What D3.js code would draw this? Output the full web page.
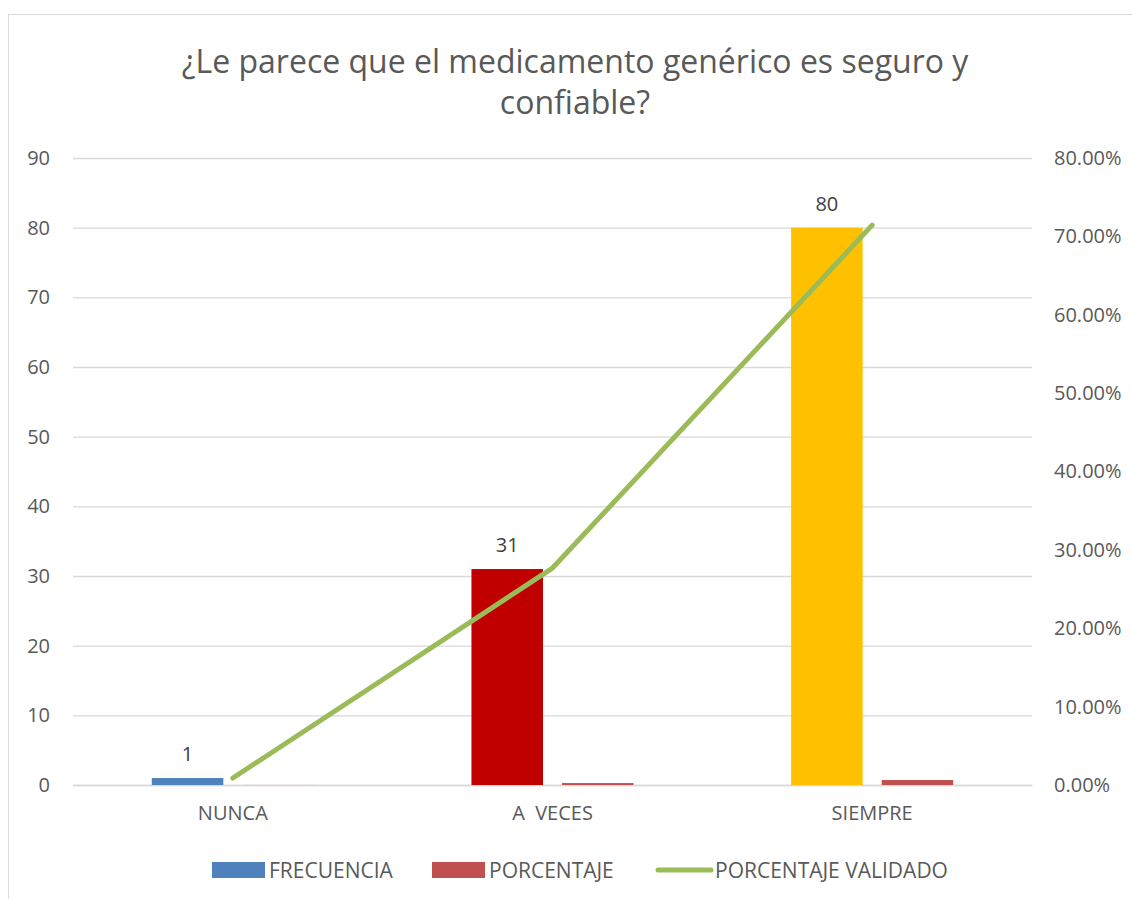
<!DOCTYPE html>
<html>
<head>
<meta charset="utf-8">
<script src="https://cdn.jsdelivr.net/npm/d3@7"></script>
<style>
  body { margin: 0; background: #fff; }
  svg { display: block; }
</style>
</head>
<body>
<div id="vis"></div>
<script>
const FRAME_WIDTH = 1132;
const FRAME_HEIGHT = 899;
const PLOT = {left: 73, right: 1032, top: 158, bottom: 785};

// data
const categories = ["NUNCA", "A  VECES", "SIEMPRE"];
const frecuencia = [1, 31, 80];
const porcentaje = [0.0089, 0.2768, 0.7143];
const porcentajeValidado = [0.0089, 0.2768, 0.7143];
const leftTicks = [0, 10, 20, 30, 40, 50, 60, 70, 80, 90];
const rightTicks = [0, 0.1, 0.2, 0.3, 0.4, 0.5, 0.6, 0.7, 0.8];
const seriesNames = ["FRECUENCIA", "PORCENTAJE", "PORCENTAJE VALIDADO"];
const barColors = ["#4F81BD", "#C00000", "#FFC000"];
const pctColor = "#C0504D";
const lineColor = "#9BBB59";

const FONT = "'Open Sans', sans-serif";
const NARROW = "'Liberation Sans Narrow', 'Open Sans', sans-serif";

const FRAME = d3.select("#vis")
  .append("svg")
    .attr("width", FRAME_WIDTH)
    .attr("height", FRAME_HEIGHT);

// chart border
FRAME.append("rect")
  .attr("x", 8.5).attr("y", 14.5)
  .attr("width", FRAME_WIDTH + 10).attr("height", FRAME_HEIGHT + 10)
  .attr("fill", "#fff")
  .attr("stroke", "#d9d9d9");

// title
const title = FRAME.append("text")
  .attr("text-anchor", "middle")
  .attr("font-family", NARROW)
  .attr("font-size", "32px")
  .attr("fill", "#595959");
title.append("tspan").attr("x", 575).attr("y", 73)
  .text("¿Le parece que el medicamento genérico es seguro y");
title.append("tspan").attr("x", 575).attr("y", 114)
  .text("confiable?");

const xScale = d3.scaleBand()
  .domain(categories)
  .range([PLOT.left, PLOT.right]);

const subScale = d3.scaleBand()
  .domain(seriesNames.slice(0, 2))
  .range([0, xScale.bandwidth()])
  .paddingInner(0.21)
  .paddingOuter(0.87);

const yLeft = d3.scaleLinear().domain([0, 90]).range([PLOT.bottom, PLOT.top]);
const yRight = d3.scaleLinear().domain([0, 0.8]).range([PLOT.bottom, PLOT.top]);

// gridlines + left axis
const gLeft = FRAME.append("g")
  .attr("transform", "translate(" + PLOT.left + ",0)")
  .call(d3.axisLeft(yLeft)
    .tickValues(leftTicks)
    .tickSize(-(PLOT.right - PLOT.left))
    .tickPadding(23)
    .tickFormat(d3.format("d")));
gLeft.select(".domain").remove();
gLeft.selectAll(".tick line").attr("stroke", "#d9d9d9").attr("stroke-width", 1.3);
gLeft.selectAll(".tick text")
  .attr("font-family", FONT).attr("font-size", "20px").attr("fill", "#595959");

// right axis
const gRight = FRAME.append("g")
  .attr("transform", "translate(" + PLOT.right + ",0)")
  .call(d3.axisRight(yRight)
    .tickValues(rightTicks)
    .tickSize(0)
    .tickPadding(22)
    .tickFormat(d3.format(".2%")));
gRight.select(".domain").remove();
gRight.selectAll(".tick text")
  .attr("font-family", FONT).attr("font-size", "20px").attr("fill", "#595959");

// category labels
const gX = FRAME.append("g")
  .attr("transform", "translate(0," + PLOT.bottom + ")")
  .call(d3.axisBottom(xScale).tickSize(0).tickPadding(21));
gX.select(".domain").attr("stroke", "#d9d9d9").attr("stroke-width", 1.3);
gX.selectAll(".tick text")
  .attr("font-family", FONT).attr("font-size", "20px").attr("fill", "#595959")
  .style("white-space", "pre");

// FRECUENCIA bars
FRAME.selectAll(".bar-f")
  .data(frecuencia)
  .enter()
  .append("rect")
  .attr("class", "bar-f")
  .attr("x", (d, i) => xScale(categories[i]) + subScale("FRECUENCIA"))
  .attr("y", d => yLeft(d))
  .attr("width", subScale.bandwidth())
  .attr("height", d => yLeft(0) - yLeft(d))
  .attr("fill", (d, i) => barColors[i]);

// PORCENTAJE bars
FRAME.selectAll(".bar-p")
  .data(porcentaje)
  .enter()
  .append("rect")
  .attr("class", "bar-p")
  .attr("x", (d, i) => xScale(categories[i]) + subScale("PORCENTAJE"))
  .attr("y", d => yLeft(d))
  .attr("width", subScale.bandwidth())
  .attr("height", d => yLeft(0) - yLeft(d))
  .attr("fill", pctColor);

// data labels
FRAME.selectAll(".lbl")
  .data(frecuencia)
  .enter()
  .append("text")
  .attr("class", "lbl")
  .attr("x", (d, i) => xScale(categories[i]) + subScale("FRECUENCIA") + subScale.bandwidth() / 2)
  .attr("y", d => yLeft(d) - 17)
  .attr("text-anchor", "middle")
  .attr("font-family", FONT).attr("font-size", "20px").attr("fill", "#404040")
  .text(d => d);

// PORCENTAJE VALIDADO line
const line = d3.line()
  .x((d, i) => xScale(categories[i]) + xScale.bandwidth() / 2)
  .y(d => yRight(d));
FRAME.append("path")
  .datum(porcentajeValidado)
  .attr("d", line)
  .attr("fill", "none")
  .attr("stroke", lineColor)
  .attr("stroke-width", 5)
  .attr("stroke-linecap", "round")
  .attr("stroke-linejoin", "round");

// legend
const legend = FRAME.append("g").attr("font-family", NARROW).attr("font-size", "21px").attr("fill", "#595959");
const legendX = [212, 432, 656];
seriesNames.forEach((name, i) => {
  const g = legend.append("g").attr("transform", "translate(" + legendX[i] + ",870)");
  if (i < 2) {
    g.append("rect").attr("x", 0).attr("y", -8).attr("width", 53).attr("height", 16)
      .attr("fill", i === 0 ? barColors[0] : pctColor);
  } else {
    g.append("line").attr("x1", 2).attr("x2", 55).attr("y1", 0).attr("y2", 0)
      .attr("stroke", lineColor).attr("stroke-width", 5).attr("stroke-linecap", "round");
  }
  g.append("text").attr("x", i < 2 ? 57 : 59).attr("y", 8).text(name);
});
</script>
</body>
</html>
